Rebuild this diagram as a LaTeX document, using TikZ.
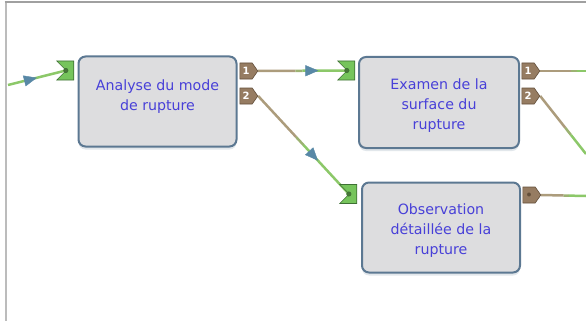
\documentclass[tikz,border=0pt]{standalone}
\usepackage{fontspec}
\setsansfont{DejaVu Sans}
\usepackage{tikz}
\usetikzlibrary{shapes.symbols,arrows.meta,calc,decorations.markings,shadows,backgrounds}

\definecolor{boxfill}{RGB}{221,221,223}
\definecolor{boxline}{RGB}{92,120,146}
\definecolor{boxtext}{RGB}{72,64,216}
\definecolor{portgreen}{RGB}{118,196,92}
\definecolor{portgreenline}{RGB}{62,112,52}
\definecolor{portbrown}{RGB}{150,124,98}
\definecolor{portbrownline}{RGB}{98,78,58}
\definecolor{wiregreen}{RGB}{140,200,105}
\definecolor{wirebrown}{RGB}{172,156,124}
\definecolor{flowblue}{RGB}{88,136,166}
\definecolor{framegrey}{RGB}{160,160,160}

\begin{document}
\begin{tikzpicture}[
  x=1pt, y=-1pt,
  task/.style={draw=boxline, line width=2pt, fill=boxfill, rounded corners=7pt,
    minimum width=158pt, minimum height=90pt, align=center, text=boxtext,
    font=\sffamily\fontsize{14.2}{20}\selectfont,
    drop shadow={shadow xshift=0pt, shadow yshift=-3pt, opacity=.18, fill=boxline}},
  inport/.style={signal, signal from=west, signal to=nowhere, fill=portgreen,
    draw=portgreenline, line width=.6pt, minimum width=17pt, minimum height=19pt, inner sep=0pt},
  outport/.style={signal, signal to=east, signal pointer angle=110, fill=portbrown,
    draw=portbrownline, line width=.6pt, minimum width=18pt, minimum height=16pt, inner sep=0pt,
    text=white, font=\sffamily\bfseries\fontsize{10}{10}\selectfont},
  wire/.style={line width=2.5pt},
  flow/.style={decorate, decoration={markings,
    mark=at position #1 with {\arrow[flowblue]{Triangle[length=13pt,width=11pt]}}}},
]
\useasboundingbox (0,0) rectangle (586,321);

\draw[framegrey!70, line width=2pt] (5.5,321) -- (5.5,2);
\draw[framegrey, line width=1.5pt] (4.5,2) -- (586,2);

\node[task] (analyse) at (157.5,101.5) {\rule{0pt}{17pt}Analyse du mode\\de rupture\\~};
\node[task, minimum width=160pt, minimum height=91pt] (examen) at (439,102.5) {\rule{0pt}{17pt}Examen de la\\surface du\\rupture};
\node[task] (observ) at (441,227.5) {\rule{0pt}{17pt}Observation\\détaillée de la\\rupture};

\node[inport] (analyse-in) at (70,70.5) {};
\node[outport] (analyse-o1) at (246,71) {1};
\node[outport] (analyse-o2) at (246,96) {2};
\node[inport] (examen-in) at (351,70.5) {};
\node[outport] (examen-o1) at (528,71) {1};
\node[outport] (examen-o2) at (528,96) {2};
\node[inport] (observ-in) at (353,194) {};
\node[outport, text=portbrownline] (observ-o) at (529,195) {$\bullet$};

\coordinate (entry) at (8,85);
\coordinate (exit1) at (586,71);
\coordinate (exit2) at (586,154);
\coordinate (exit3) at (586,196);

\begin{scope}[on background layer]
\draw[wire, wiregreen] (entry) -- (analyse-in.west);
\path[flow=.5] (entry) -- (analyse-in.west);

\foreach \a/\b/\f/\p in {analyse-o1/examen-in/.42/.68, analyse-o2/observ-in/.42/.66} {
  \draw[wire, wirebrown] (\a.east) -- ($(\a.east)!\f!(\b.west)$);
  \draw[wire, wirebrown!50!wiregreen] ($(\a.east)!\f!(\b.west)$) -- ($(\a.east)!\f+.08!(\b.west)$);
  \draw[wire, wiregreen] ($(\a.east)!\f+.08!(\b.west)$) -- (\b.west);
  \path[flow=\p] (\a.east) -- (\b.west);
}

\foreach \a/\b/\f in {examen-o1/exit1/.68, examen-o2/exit2/.55, observ-o/exit3/.5} {
  \draw[wire, wirebrown] (\a.east) -- ($(\a.east)!\f!(\b)$);
  \draw[wire, wirebrown!50!wiregreen] ($(\a.east)!\f!(\b)$) -- ($(\a.east)!\f+.12!(\b)$);
  \draw[wire, wiregreen] ($(\a.east)!\f+.12!(\b)$) -- (\b);
}
\end{scope}

\foreach \p in {analyse-in, examen-in, observ-in}
  \draw[portgreenline, fill=portgreen!60!black, line width=.6pt] (\p.west) circle (2.2pt);
\end{tikzpicture}
\end{document}
